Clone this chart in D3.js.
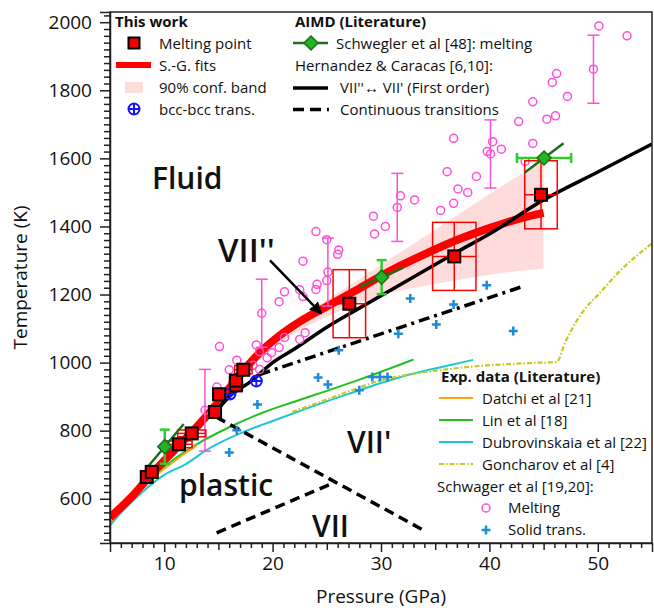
<!DOCTYPE html>
<html>
<head>
<meta charset="utf-8">
<script src="https://cdn.jsdelivr.net/npm/d3@7"></script>
<style>
  body { margin: 0; background: #fff; }
  svg { font-family: "Open Sans", "Noto Sans", sans-serif; }
</style>
</head>
<body>
<div id="chart"></div>
<script>
// ---- data ----
// this work: melting points + error boxes
var meltP    = [8.39, 8.85, 11.37, 12.54, 14.69, 15.06, 16.62, 16.62, 17.3, 27.08, 36.76, 44.76];
var meltT    = [664, 679, 760, 792, 855, 907, 933, 947, 979, 1173, 1312, 1493];
var meltErrP = [0.3, 0.3, 1.2, 1.3, 0.4, 0.4, 0.6, 0.6, 0.8, 1.5, 2.0, 1.5];
var meltErrT = [8, 8, 10, 10, 10, 10, 10, 10, 12, 100, 100, 100];

// S.-G. fit
var fitP = [5, 7, 9, 11, 13, 15, 17, 19, 21, 23, 25, 28, 31, 34, 37, 40, 43, 45];
var fitT = [545, 606, 678, 745, 811, 884, 965, 1035, 1088, 1130, 1165, 1218, 1272, 1318, 1360, 1395, 1425, 1440];

// 90% confidence band
var bandP     = [16, 18, 20, 22, 25, 28, 31, 34, 37, 40, 43, 45];
var bandUpper = [935, 1000, 1065, 1120, 1185, 1245, 1308, 1370, 1432, 1495, 1555, 1593];
var bandLower = [925, 985, 1040, 1085, 1135, 1175, 1205, 1225, 1243, 1258, 1270, 1276];

// bcc-bcc transitions
var bccP = [16.07, 18.5];
var bccT = [908, 946];

// Schwegler et al: melting (AIMD)
var schwP = [10.05, 30.06, 45.04];
var schwT = [753, 1251, 1601];
var schwErrP = [0, 0, 2.5];
var schwErrT = [50, 50, 0];
var schwSlope = [38, 14, 24];     // K/GPa
var schwHalf  = [1.75, 2.0, 1.8];  // GPa

// Hernandez & Caracas
var firstP = [14.5, 16, 18, 20, 22, 25, 28, 31, 34, 37, 40, 45, 50, 55];
var firstT = [845, 900, 945, 1000, 1040, 1104, 1160, 1215, 1270, 1325, 1378, 1478, 1560, 1642];
var contDashDotP = [18.8, 43.2];
var contDashDotT = [965, 1225];
var contDash1P = [14.8, 33.9];
var contDash1T = [840, 508];
var contDash2P = [14.84, 25.8];
var contDash2T = [500, 649];

// experimental lines
var datchiP = [5, 6, 7, 8, 9, 10, 11, 12, 13];
var datchiT = [528, 567, 603, 634, 662, 688, 712, 735, 757];
var linP = [5, 7, 9, 11, 13, 16, 19, 22, 25, 28, 31, 33];
var linT = [528, 600, 665, 718, 760, 810, 852, 885, 917, 950, 985, 1009];
var dubP = [5, 6, 8, 10, 12, 14, 16, 18, 21, 24, 27, 30, 33, 36, 38.5];
var dubT = [522, 558, 620, 670, 702, 745, 778, 805, 840, 875, 908, 940, 968, 990, 1008];
var gonP = [21.8, 24, 27, 30, 33, 36, 39, 42, 44, 46.2, 47, 48, 49, 50, 52, 55];
var gonT = [855, 880, 915, 948, 967, 980, 990, 996, 999, 1002, 1060, 1120, 1165, 1198, 1268, 1350];

// Schwager et al: melting (circles) and solid transitions (plus)
var schwagerMeltP = [50.1, 52.7, 49.6, 46.2, 45.8, 47.2, 44.0, 46.1, 45.3, 42.7, 44.0, 36.7, 40.3, 41.1, 39.8,
  40.1, 43.3, 36.1, 38.8, 37.1, 38.0, 36.7, 35.5, 33.1, 31.8, 31.5, 29.3, 30.4, 29.4, 24.0, 25.0, 26.1, 26.0,
  22.8, 25.1, 25.0, 24.1, 24.0, 21.1, 20.6, 22.5, 22.8, 19.0, 23.0, 22.5, 21.1, 15.1, 18.5, 18.8, 19.9, 20.6,
  19.5, 16.7, 18.2, 16.0, 18.8, 14.85, 13.76];
var schwagerMeltT = [1989, 1960, 1862, 1849, 1823, 1782, 1766, 1725, 1715, 1708, 1644, 1659, 1649, 1627, 1620,
  1613, 1591, 1561, 1547, 1510, 1500, 1468, 1447, 1478, 1490, 1456, 1430, 1400, 1378, 1385, 1361, 1331, 1318,
  1298, 1266, 1241, 1230, 1215, 1208, 1179, 1214, 1194, 1145, 1088, 1068, 1074, 1047, 1052, 1032, 1029, 1044,
  1014, 1007, 992, 979, 980, 928, 860];
var schwagerBarP = [49.6, 40.1, 31.5, 25.1, 19.0, 13.76];
var schwagerBarT = [1862, 1613, 1456, 1266, 1145, 860];
var schwagerBarErr = [100, 100, 100, 100, 100, 120];
var solidP = [39.75, 32.7, 36.7, 31.6, 35.1, 42.2, 26.1, 24.2, 25.1, 29.2, 29.9, 30.6, 28.0, 18.6, 16.7, 16.0];
var solidT = [1227, 1188, 1171, 1085, 1112, 1093, 1036, 956, 936, 958, 958, 958, 919, 877, 801, 736];

var xMajor = [10, 20, 30, 40, 50];
var yMajor = [600, 800, 1000, 1200, 1400, 1600, 1800, 2000];

// ---- layout ----
var width = 654, height = 608;
var plot = {left: 110, right: 652, top: 12, bottom: 543};

var svg = d3.select("#chart").append("svg")
  .attr("width", width)
  .attr("height", height);

var x = d3.scaleLinear().domain([5, 55]).range([plot.left, plot.right]);
var y = d3.scaleLinear().domain([470, 2030]).range([plot.bottom, plot.top]);

var clip = svg.append("clipPath").attr("id", "clip")
  .append("rect")
  .attr("x", plot.left).attr("y", plot.top)
  .attr("width", plot.right - plot.left).attr("height", plot.bottom - plot.top);

var g = svg.append("g").attr("clip-path", "url(#clip)");

function zip(ps, ts) { return ps.map(function(p, i) { return [p, ts[i]]; }); }

var line = d3.line()
  .x(function(d) { return x(d[0]); })
  .y(function(d) { return y(d[1]); });
var smooth = d3.line()
  .curve(d3.curveMonotoneX)
  .x(function(d) { return x(d[0]); })
  .y(function(d) { return y(d[1]); });

// confidence band
var area = d3.area()
  .curve(d3.curveMonotoneX)
  .x(function(d) { return x(d.p); })
  .y0(function(d) { return y(d.lo); })
  .y1(function(d) { return y(d.hi); });
g.append("path")
  .datum(bandP.map(function(p, i) { return {p: p, lo: bandLower[i], hi: bandUpper[i]}; }))
  .attr("d", area)
  .style("fill", "#ffdcdc");

// experimental lines
g.append("path").attr("d", smooth(zip(dubP, dubT)))
  .style("fill", "none").style("stroke", "#1ec8d2").style("stroke-width", 2);
g.append("path").attr("d", smooth(zip(gonP, gonT)))
  .style("fill", "none").style("stroke", "#c8c81e").style("stroke-width", 2.2)
  .style("stroke-dasharray", "5 2 1.5 2");
g.append("path").attr("d", smooth(zip(linP, linT)))
  .style("fill", "none").style("stroke", "#22c022").style("stroke-width", 2);
g.append("path").attr("d", smooth(zip(datchiP, datchiT)))
  .style("fill", "none").style("stroke", "#ffa31a").style("stroke-width", 2);

// S.-G. fit
g.append("path").attr("d", smooth(zip(fitP, fitT)))
  .style("fill", "none").style("stroke", "#ff0000").style("stroke-width", 8);

// Hernandez & Caracas lines
g.append("path").attr("d", smooth(zip(firstP, firstT)))
  .style("fill", "none").style("stroke", "#000").style("stroke-width", 3.5);
g.append("path").attr("d", line(zip(contDashDotP, contDashDotT)))
  .style("fill", "none").style("stroke", "#000").style("stroke-width", 3.5)
  .style("stroke-dasharray", "11 5 3 5");
g.append("path").attr("d", line(zip(contDash1P, contDash1T)))
  .style("fill", "none").style("stroke", "#000").style("stroke-width", 3.5)
  .style("stroke-dasharray", "10 6");
g.append("path").attr("d", line(zip(contDash2P, contDash2T)))
  .style("fill", "none").style("stroke", "#000").style("stroke-width", 3.5)
  .style("stroke-dasharray", "10 6");

// Schwager melting: error bars + circles
var bars = g.selectAll(".sbar").data(d3.range(schwagerBarP.length)).enter().append("g")
  .attr("class", "sbar").style("stroke", "#ff4fd8").style("stroke-width", 1.5);
bars.append("line")
  .attr("x1", function(i) { return x(schwagerBarP[i]); })
  .attr("x2", function(i) { return x(schwagerBarP[i]); })
  .attr("y1", function(i) { return y(schwagerBarT[i] - schwagerBarErr[i]); })
  .attr("y2", function(i) { return y(schwagerBarT[i] + schwagerBarErr[i]); });
[-1, 1].forEach(function(s) {
  bars.append("line")
    .attr("x1", function(i) { return x(schwagerBarP[i]) - 6; })
    .attr("x2", function(i) { return x(schwagerBarP[i]) + 6; })
    .attr("y1", function(i) { return y(schwagerBarT[i] + s * schwagerBarErr[i]); })
    .attr("y2", function(i) { return y(schwagerBarT[i] + s * schwagerBarErr[i]); });
});
g.selectAll(".smelt").data(zip(schwagerMeltP, schwagerMeltT)).enter().append("circle")
  .attr("class", "smelt")
  .attr("cx", function(d) { return x(d[0]); })
  .attr("cy", function(d) { return y(d[1]); })
  .attr("r", 4)
  .style("fill", "none").style("stroke", "#ff4fd8").style("stroke-width", 1.5);

// Schwager solid transitions
var plusPath = "M-4.5,0H4.5M0,-4.5V4.5";
g.selectAll(".solid").data(zip(solidP, solidT)).enter().append("path")
  .attr("class", "solid")
  .attr("transform", function(d) { return "translate(" + x(d[0]) + "," + y(d[1]) + ")"; })
  .attr("d", plusPath)
  .style("stroke", "#1f8ad6").style("stroke-width", 2.5);

// error boxes for melting points
var boxes = g.selectAll(".mbox").data(d3.range(meltP.length)).enter().append("g")
  .attr("class", "mbox").style("stroke", "#ff0000").style("stroke-width", 1.5).style("fill", "none");
boxes.append("rect")
  .attr("x", function(i) { return x(meltP[i] - meltErrP[i]); })
  .attr("y", function(i) { return y(meltT[i] + meltErrT[i]); })
  .attr("width", function(i) { return x(meltP[i] + meltErrP[i]) - x(meltP[i] - meltErrP[i]); })
  .attr("height", function(i) { return y(meltT[i] - meltErrT[i]) - y(meltT[i] + meltErrT[i]); });
boxes.append("line")
  .attr("x1", function(i) { return x(meltP[i]); })
  .attr("x2", function(i) { return x(meltP[i]); })
  .attr("y1", function(i) { return y(meltT[i] + meltErrT[i]); })
  .attr("y2", function(i) { return y(meltT[i] - meltErrT[i]); });
boxes.append("line")
  .attr("x1", function(i) { return x(meltP[i] - meltErrP[i]); })
  .attr("x2", function(i) { return x(meltP[i] + meltErrP[i]); })
  .attr("y1", function(i) { return y(meltT[i]); })
  .attr("y2", function(i) { return y(meltT[i]); });

// Schwegler diamonds
var sg = g.selectAll(".schw").data(d3.range(schwP.length)).enter().append("g").attr("class", "schw");
sg.append("line")
  .attr("x1", function(i) { return x(schwP[i] - schwHalf[i]); })
  .attr("x2", function(i) { return x(schwP[i] + schwHalf[i]); })
  .attr("y1", function(i) { return y(schwT[i] - schwSlope[i] * schwHalf[i]); })
  .attr("y2", function(i) { return y(schwT[i] + schwSlope[i] * schwHalf[i]); })
  .style("stroke", "#1b6e1b").style("stroke-width", 2.5);
var eb = sg.filter(function(i) { return schwErrT[i] > 0; }).style("stroke", "#2ccc2c").style("stroke-width", 2.5);
eb.append("line")
  .attr("x1", function(i) { return x(schwP[i]); }).attr("x2", function(i) { return x(schwP[i]); })
  .attr("y1", function(i) { return y(schwT[i] - schwErrT[i]); })
  .attr("y2", function(i) { return y(schwT[i] + schwErrT[i]); });
[-1, 1].forEach(function(s) {
  eb.append("line")
    .attr("x1", function(i) { return x(schwP[i]) - 5; }).attr("x2", function(i) { return x(schwP[i]) + 5; })
    .attr("y1", function(i) { return y(schwT[i] + s * schwErrT[i]); })
    .attr("y2", function(i) { return y(schwT[i] + s * schwErrT[i]); });
});
var ebx = sg.filter(function(i) { return schwErrP[i] > 0; }).style("stroke", "#2ccc2c").style("stroke-width", 2.5);
ebx.append("line")
  .attr("x1", function(i) { return x(schwP[i] - schwErrP[i]); })
  .attr("x2", function(i) { return x(schwP[i] + schwErrP[i]); })
  .attr("y1", function(i) { return y(schwT[i]); }).attr("y2", function(i) { return y(schwT[i]); });
[-1, 1].forEach(function(s) {
  ebx.append("line")
    .attr("x1", function(i) { return x(schwP[i] + s * schwErrP[i]); })
    .attr("x2", function(i) { return x(schwP[i] + s * schwErrP[i]); })
    .attr("y1", function(i) { return y(schwT[i]) - 5; }).attr("y2", function(i) { return y(schwT[i]) + 5; });
});
var diamond = "M0,-7L7,0L0,7L-7,0Z";
sg.append("path")
  .attr("transform", function(i) { return "translate(" + x(schwP[i]) + "," + y(schwT[i]) + ")"; })
  .attr("d", diamond)
  .style("fill", "#22b522").style("stroke", "#1b6e1b").style("stroke-width", 1.5);

// bcc-bcc transitions
var bcc = g.selectAll(".bcc").data(zip(bccP, bccT)).enter().append("g").attr("class", "bcc")
  .attr("transform", function(d) { return "translate(" + x(d[0]) + "," + y(d[1]) + ")"; })
  .style("stroke", "#1414ff").style("stroke-width", 2).style("fill", "none");
bcc.append("circle").attr("r", 5.5);
bcc.append("path").attr("d", "M-5.5,0H5.5M0,-5.5V5.5");

// melting points
g.selectAll(".mpt").data(zip(meltP, meltT)).enter().append("rect")
  .attr("class", "mpt")
  .attr("x", function(d) { return x(d[0]) - 6; })
  .attr("y", function(d) { return y(d[1]) - 6; })
  .attr("width", 12).attr("height", 12)
  .style("fill", "#f00000").style("stroke", "#000").style("stroke-width", 2);

// ---- axes ----
var xAxis = svg.append("g").attr("transform", "translate(0," + plot.bottom + ")")
  .call(d3.axisBottom(x).tickValues(xMajor).tickSize(9).tickPadding(5).tickFormat(d3.format("d")));
svg.append("g").attr("transform", "translate(0," + plot.bottom + ")")
  .call(d3.axisBottom(x).tickValues(d3.range(6, 55, 1).filter(function(v) { return v % 10 !== 0; }))
    .tickSize(5).tickFormat(""))
  .call(function(a) { a.select(".domain").remove(); })
  .selectAll(".tick line").attr("y2", function(d) { return d % 5 === 0 ? 7 : 5; });
var yAxis = svg.append("g").attr("transform", "translate(" + plot.left + ",0)")
  .call(d3.axisLeft(y).tickValues(yMajor).tickSize(10).tickPadding(8).tickFormat(d3.format("d")));
svg.append("g").attr("transform", "translate(" + plot.left + ",0)")
  .call(d3.axisLeft(y).tickValues(d3.range(480, 2030, 20).filter(function(v) { return v % 200 !== 0; }))
    .tickSize(6).tickFormat(""))
  .call(function(a) { a.select(".domain").remove(); });

svg.selectAll(".tick text").style("font-size", "19px").style("fill", "#111")
  .style("font-family", "'Open Sans', sans-serif");
svg.selectAll(".tick line").style("stroke", "#222").style("stroke-width", 1.5);
svg.selectAll(".domain").style("stroke", "#222").style("stroke-width", 1.5);

// frame
svg.append("rect")
  .attr("x", plot.left).attr("y", plot.top)
  .attr("width", plot.right - plot.left).attr("height", plot.bottom - plot.top)
  .style("fill", "none").style("stroke", "#222").style("stroke-width", 1.5);

// axis titles
svg.append("text")
  .attr("x", (plot.left + plot.right) / 2).attr("y", 603)
  .attr("text-anchor", "middle").style("font-size", "19px").style("fill", "#111")
  .text("Pressure (GPa)");
svg.append("text")
  .attr("transform", "translate(27," + (plot.top + plot.bottom) / 2 + ") rotate(-90)")
  .attr("text-anchor", "middle").style("font-size", "19px").style("fill", "#111")
  .text("Temperature (K)");

// ---- phase labels ----
function label(txt, px, py, size) {
  svg.append("text").attr("x", px).attr("y", py)
    .style("font-size", size + "px").style("font-weight", 600).style("fill", "#111")
    .text(txt);
}
label("Fluid", 152, 189, 30);
label("VII''", 218, 262, 33);
label("VII'", 347, 453, 30);
label("VII", 312, 537, 30);
label("plastic", 179, 496, 30);

// arrow
svg.append("defs").append("marker")
  .attr("id", "arrow").attr("viewBox", "0 0 10 10")
  .attr("refX", 9).attr("refY", 5)
  .attr("markerWidth", 5).attr("markerHeight", 5)
  .attr("orient", "auto")
  .append("path").attr("d", "M0,0L10,5L0,10Z").style("fill", "#000");
svg.append("line")
  .attr("x1", x(19.76)).attr("y1", y(1300))
  .attr("x2", x(24.5)).attr("y2", y(1144))
  .style("stroke", "#000").style("stroke-width", 2.5)
  .attr("marker-end", "url(#arrow)");

// ---- legends ----
var fs = "15px";
function ltext(txt, px, py, bold) {
  svg.append("text").attr("x", px).attr("y", py)
    .style("font-size", fs).style("fill", "#111")
    .style("font-weight", bold ? 700 : 400)
    .text(txt);
}
// This work
ltext("This work", 115, 27, true);
svg.append("rect").attr("x", 128.5).attr("y", 37.5).attr("width", 11).attr("height", 11)
  .style("fill", "#f00000").style("stroke", "#000").style("stroke-width", 2);
ltext("Melting point", 159, 49);
svg.append("line").attr("x1", 116).attr("x2", 151).attr("y1", 65).attr("y2", 65)
  .style("stroke", "#ff0000").style("stroke-width", 6);
ltext("S.-G. fits", 159, 71);
svg.append("rect").attr("x", 125).attr("y", 82).attr("width", 18).attr("height", 11)
  .style("fill", "#ffdcdc");
ltext("90% conf. band", 159, 93);
var lb = svg.append("g").attr("transform", "translate(134,109)")
  .style("stroke", "#1414ff").style("stroke-width", 2).style("fill", "none");
lb.append("circle").attr("r", 5.5);
lb.append("path").attr("d", "M-5.5,0H5.5M0,-5.5V5.5");
ltext("bcc-bcc trans.", 159, 115);

// AIMD
ltext("AIMD (Literature)", 295, 27, true);
svg.append("line").attr("x1", 293).attr("x2", 328).attr("y1", 43).attr("y2", 43)
  .style("stroke", "#1b6e1b").style("stroke-width", 2.5);
svg.append("path").attr("transform", "translate(311,43)").attr("d", diamond)
  .style("fill", "#22b522").style("stroke", "#1b6e1b").style("stroke-width", 1.5);
ltext("Schwegler et al [48]: melting", 336, 49);
ltext("Hernandez & Caracas [6,10]:", 295, 71);
svg.append("line").attr("x1", 293).attr("x2", 328).attr("y1", 88).attr("y2", 88)
  .style("stroke", "#000").style("stroke-width", 3.5);
ltext("VII''\u2194 VII' (First order)", 340, 93);
svg.append("line").attr("x1", 293).attr("x2", 329).attr("y1", 109.5).attr("y2", 109.5)
  .style("stroke", "#000").style("stroke-width", 3.5).style("stroke-dasharray", "11 6");
ltext("Continuous transitions", 340, 115);

// Exp. data
ltext("Exp. data (Literature)", 441, 382, true);
var expLeg = [
  {name: "Datchi et al [21]", color: "#ffa31a", dash: null},
  {name: "Lin et al [18]", color: "#22c022", dash: null},
  {name: "Dubrovinskaia et al [22]", color: "#1ec8d2", dash: null},
  {name: "Goncharov et al [4]", color: "#c8c81e", dash: "5 2 1.5 2"}
];
expLeg.forEach(function(d, i) {
  var yy = 398 + i * 22;
  svg.append("line").attr("x1", 439).attr("x2", 473).attr("y1", yy).attr("y2", yy)
    .style("stroke", d.color).style("stroke-width", 2.2)
    .style("stroke-dasharray", d.dash);
  ltext(d.name, 482, yy + 6);
});
ltext("Schwager et al [19,20]:", 437, 492);
svg.append("circle").attr("cx", 486).attr("cy", 508).attr("r", 4)
  .style("fill", "none").style("stroke", "#ff4fd8").style("stroke-width", 1.5);
ltext("Melting", 508, 513);
svg.append("path").attr("transform", "translate(486,530)").attr("d", plusPath)
  .style("stroke", "#1f8ad6").style("stroke-width", 2.5);
ltext("Solid trans.", 508, 535);
</script>
</body>
</html>
